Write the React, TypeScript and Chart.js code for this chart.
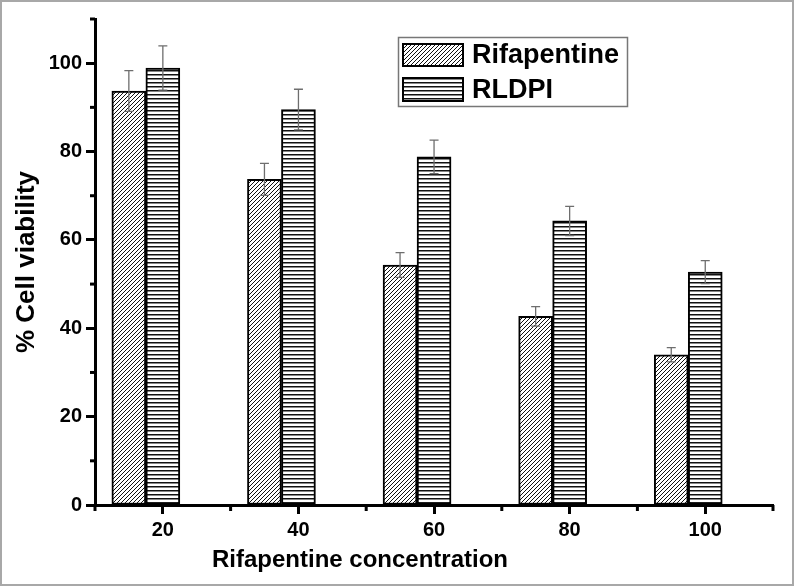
import React, { useEffect, useRef } from 'react';
import { Chart, registerables } from 'chart.js';

Chart.register(...registerables);

const categories = [20, 40, 60, 80, 100];
const seriesNames = ['Rifapentine', 'RLDPI'];
const rifapentine = [93.7, 73.7, 54.3, 42.7, 34.0];
const rifapentineErr = [4.6, 3.6, 2.8, 2.2, 1.6];
const rldpi = [98.9, 89.5, 78.8, 64.3, 52.7];
const rldpiErr = [5.0, 4.6, 3.8, 3.3, 2.6];
const xTickLabels = [20, 40, 60, 80, 100];
const yTickLabels = [0, 20, 40, 60, 80, 100];
const xTitle = 'Rifapentine concentration';
const yTitle = '% Cell viability';

const FAMILY = '"Liberation Sans", Arial, Helvetica, sans-serif';

function makeDiag(ctx: CanvasRenderingContext2D) {
  const c = document.createElement('canvas');
  c.width = 4;
  c.height = 4;
  const g = c.getContext('2d')!;
  g.fillStyle = '#fff';
  g.fillRect(0, 0, 4, 4);
  g.strokeStyle = '#111';
  g.lineWidth = 1;
  g.beginPath();
  g.moveTo(-1, 5);
  g.lineTo(5, -1);
  g.moveTo(-1, 1);
  g.lineTo(1, -1);
  g.moveTo(3, 5);
  g.lineTo(5, 3);
  g.stroke();
  return ctx.createPattern(c, 'repeat')!;
}

function makeHoriz(ctx: CanvasRenderingContext2D) {
  const c = document.createElement('canvas');
  c.width = 4;
  c.height = 4;
  const g = c.getContext('2d')!;
  g.fillStyle = '#fff';
  g.fillRect(0, 0, 4, 4);
  g.fillStyle = '#111';
  g.fillRect(0, 0, 4, 1.5);
  return ctx.createPattern(c, 'repeat')!;
}

const errorBars = {
  id: 'errorBars',
  afterDatasetsDraw(chart: any) {
    const ctx = chart.ctx;
    const y = chart.scales.y;
    const vals = [rifapentine, rldpi];
    const errs = [rifapentineErr, rldpiErr];
    ctx.save();
    ctx.strokeStyle = '#6e6e6e';
    ctx.lineWidth = 1.3;
    chart.data.datasets.forEach((_ds: any, di: number) => {
      const meta = chart.getDatasetMeta(di);
      meta.data.forEach((bar: any, i: number) => {
        const top = y.getPixelForValue(vals[di][i] + errs[di][i]);
        const bot = y.getPixelForValue(vals[di][i] - errs[di][i]);
        const x = bar.x;
        ctx.beginPath();
        ctx.moveTo(x, top);
        ctx.lineTo(x, bot);
        ctx.moveTo(x - 4.5, top);
        ctx.lineTo(x + 4.5, top);
        ctx.moveTo(x - 4.5, bot);
        ctx.lineTo(x + 4.5, bot);
        ctx.stroke();
      });
    });
    ctx.restore();
  },
};

const minorTicks = {
  id: 'minorTicks',
  afterDraw(chart: any) {
    const ctx = chart.ctx;
    const xs = chart.scales.x;
    const ys = chart.scales.y;
    const area = chart.chartArea;
    ctx.save();
    ctx.strokeStyle = '#000';
    ctx.lineWidth = 3;
    xs.ticks.forEach((t: any) => {
      if (xTickLabels.includes(t.value)) return;
      const px = xs.getPixelForValue(t.value);
      ctx.beginPath();
      ctx.moveTo(px, area.bottom);
      ctx.lineTo(px, area.bottom + 6);
      ctx.stroke();
    });
    ys.ticks.forEach((t: any) => {
      if (yTickLabels.includes(t.value)) return;
      const py = ys.getPixelForValue(t.value);
      ctx.beginPath();
      ctx.moveTo(area.left, py);
      ctx.lineTo(area.left - 5, py);
      ctx.stroke();
    });
    // x axis title (offset left of centre as in the original figure)
    ctx.fillStyle = '#000';
    ctx.font = `bold 24px ${FAMILY}`;
    ctx.textAlign = 'center';
    ctx.textBaseline = 'alphabetic';
    ctx.fillText(xTitle, 358, 565);
    ctx.restore();
  },
};

const boxLegend = {
  id: 'boxLegend',
  afterDraw(chart: any) {
    const ctx = chart.ctx;
    ctx.save();
    ctx.strokeStyle = '#777';
    ctx.lineWidth = 1.5;
    ctx.strokeRect(396.5, 35.5, 229, 69);
    const rows = [
      { y: 41, h: 24 },
      { y: 75, h: 25 },
    ];
    chart.data.datasets.forEach((ds: any, i: number) => {
      const r = rows[i];
      ctx.fillStyle = ds.backgroundColor;
      ctx.fillRect(400, r.y, 62, r.h);
      ctx.strokeStyle = '#000';
      ctx.lineWidth = 2;
      ctx.strokeRect(401, r.y + 1, 60, r.h - 2);
      ctx.fillStyle = '#000';
      ctx.font = `bold 27px ${FAMILY}`;
      ctx.textBaseline = 'middle';
      ctx.textAlign = 'left';
      ctx.fillText(seriesNames[i], 470, r.y + r.h / 2 + 1);
    });
    ctx.restore();
  },
};

export default function App() {
  const ref = useRef<HTMLCanvasElement | null>(null);

  useEffect(() => {
    const canvas = ref.current!;
    const ctx = canvas.getContext('2d')!;
    const diag = makeDiag(ctx);
    const horiz = makeHoriz(ctx);
    const tickFont = { family: FAMILY, size: 20, weight: 'bold' as const };

    const chart = new Chart(ctx, {
      type: 'bar',
      data: {
        datasets: [
          {
            label: seriesNames[0],
            data: categories.map((c, i) => ({ x: c, y: rifapentine[i] })),
            backgroundColor: diag as any,
            borderColor: '#000',
            borderWidth: 2,
            borderSkipped: false,
            barThickness: 34,
            xAxisID: 'xb',
            yAxisID: 'y',
          },
          {
            label: seriesNames[1],
            data: categories.map((c, i) => ({ x: c, y: rldpi[i] })),
            backgroundColor: horiz as any,
            borderColor: '#000',
            borderWidth: 2,
            borderSkipped: false,
            barThickness: 34,
            xAxisID: 'xb',
            yAxisID: 'y',
          },
        ],
      },
      options: {
        animation: false,
        responsive: false,
        maintainAspectRatio: false,
        layout: { padding: { top: 17, right: 19, left: 0, bottom: 0 } },
        plugins: {
          legend: { display: false },
          tooltip: { enabled: false },
        },
        scales: {
          x: {
            type: 'linear',
            position: 'bottom',
            min: 10,
            max: 110,
            offset: false,
            afterFit: (s: any) => {
              s.height = 79;
            },
            ticks: {
              stepSize: 10,
              autoSkip: false,
              maxRotation: 0,
              padding: 4,
              color: '#000',
              font: tickFont,
              callback: (v: any) => (xTickLabels.includes(v) ? String(v) : ''),
            },
            grid: {
              drawOnChartArea: false,
              offset: false,
              tickLength: 9,
              tickWidth: 3,
              tickColor: (c: any) => (c.tick && xTickLabels.includes(c.tick.value) ? '#000' : 'rgba(0,0,0,0)'),
            },
            border: { display: true, color: '#000', width: 3 },
            title: { display: false },
          },
          xb: {
            type: 'linear',
            display: false,
            min: 12.5,
            max: 112.5,
            offset: false,
            grid: { offset: false },
          },
          y: {
            type: 'linear',
            position: 'left',
            min: 0,
            max: 110,
            afterFit: (s: any) => {
              s.width = 93;
            },
            ticks: {
              stepSize: 10,
              autoSkip: false,
              padding: 4,
              color: '#000',
              font: tickFont,
              callback: (v: any) => (yTickLabels.includes(v) ? String(v) : ''),
            },
            grid: {
              drawOnChartArea: false,
              tickLength: 9,
              tickWidth: 3,
              tickColor: (c: any) => (c.tick && yTickLabels.includes(c.tick.value) ? '#000' : 'rgba(0,0,0,0)'),
            },
            border: { display: true, color: '#000', width: 3 },
            title: {
              display: true,
              text: yTitle,
              color: '#000',
              font: { family: FAMILY, size: 26, weight: 'bold' as const },
              padding: { top: 9, bottom: 0 },
            },
          },
        },
      },
      plugins: [errorBars, minorTicks, boxLegend],
    } as any);

    return () => chart.destroy();
  }, []);

  return (
    <div
      style={{
        position: 'absolute',
        left: 0,
        top: 0,
        width: 794,
        height: 586,
        border: '2px solid #a8a8a8',
        boxSizing: 'border-box',
        background: '#fff',
      }}
    >
      <canvas ref={ref} width={790} height={582} style={{ display: 'block' }} />
    </div>
  );
}
